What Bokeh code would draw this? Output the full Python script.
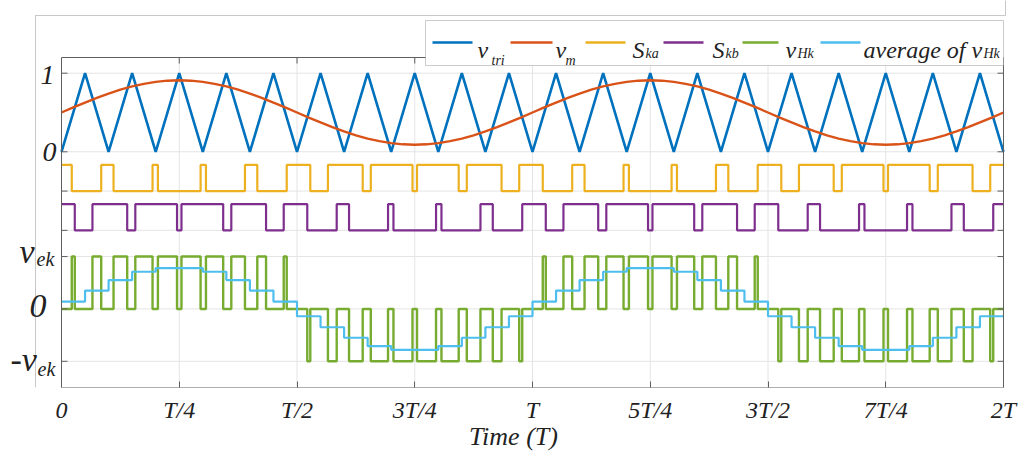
from bokeh.plotting import figure
from bokeh.models import FixedTicker, Label, BoxAnnotation, Range1d
from bokeh.embed import file_html
from bokeh.resources import INLINE

# ---------------- data (time in units of T) ----------------
x_ticks = [0, 0.25, 0.5, 0.75, 1, 1.25, 1.5, 1.75, 2]
x_tick_labels = ["0", "T/4", "T/2", "3T/4", "T", "5T/4", "3T/2", "7T/4", "2T"]

# carrier v_tri, sampled at its corners (every 0.05 T)
t_tri = [i * 0.05 for i in range(41)]
v_tri = [0, 1, 0, 1, 0, 1, 0, 1, 0, 1, 0, 1, 0, 1, 0, 1, 0, 1, 0, 1,
         0, 1, 0, 1, 0, 1, 0, 1, 0, 1, 0, 1, 0, 1, 0, 1, 0, 1, 0, 1, 0]

# modulating signal v_m, sampled every 0.025 T
t_m = [i * 0.025 for i in range(81)]
v_m = [0.500, 0.564, 0.627, 0.686, 0.741, 0.790, 0.832, 0.865, 0.890, 0.905,
       0.910, 0.905, 0.890, 0.865, 0.832, 0.790, 0.741, 0.686, 0.627, 0.564,
       0.500, 0.436, 0.373, 0.314, 0.259, 0.210, 0.168, 0.135, 0.110, 0.095,
       0.090, 0.095, 0.110, 0.135, 0.168, 0.210, 0.259, 0.314, 0.373, 0.436,
       0.500, 0.564, 0.627, 0.686, 0.741, 0.790, 0.832, 0.865, 0.890, 0.905,
       0.910, 0.905, 0.890, 0.865, 0.832, 0.790, 0.741, 0.686, 0.627, 0.564,
       0.500, 0.436, 0.373, 0.314, 0.259, 0.210, 0.168, 0.135, 0.110, 0.095,
       0.090, 0.095, 0.110, 0.135, 0.168, 0.210, 0.259, 0.314, 0.373, 0.436,
       0.500]

# switching instants of S_ka and S_kb (both start high at t = 0)
ska_edges = [0.0218, 0.0843, 0.1105, 0.1933, 0.2047, 0.2953, 0.3067, 0.3895,
             0.4157, 0.4782, 0.5282, 0.5657, 0.6395, 0.6567, 0.7452, 0.7548,
             0.8433, 0.8605, 0.9343, 0.9718,
             1.0218, 1.0843, 1.1105, 1.1933, 1.2047, 1.2953, 1.3067, 1.3895,
             1.4157, 1.4782, 1.5282, 1.5657, 1.6395, 1.6567, 1.7452, 1.7548,
             1.8433, 1.8605, 1.9343, 1.9718]
skb_edges = [0.0282, 0.0657, 0.1395, 0.1567, 0.2453, 0.2547, 0.3433, 0.3605,
             0.4343, 0.4718, 0.5218, 0.5843, 0.6105, 0.6933, 0.7048, 0.7952,
             0.8067, 0.8895, 0.9157, 0.9782,
             1.0282, 1.0657, 1.1395, 1.1567, 1.2453, 1.2547, 1.3433, 1.3605,
             1.4343, 1.4718, 1.5218, 1.5843, 1.6105, 1.6933, 1.7048, 1.7952,
             1.8067, 1.8895, 1.9157, 1.9782]

# average of v_Hk over each half carrier period (per unit of v_ek)
t_avg = [i * 0.05 for i in range(41)]
avg_vhk = [0.14, 0.35, 0.55, 0.71, 0.78, 0.78, 0.71, 0.55, 0.35, 0.14,
           -0.14, -0.35, -0.55, -0.71, -0.78, -0.78, -0.71, -0.55, -0.35, -0.14,
           0.14, 0.35, 0.55, 0.71, 0.78, 0.78, 0.71, 0.55, 0.35, 0.14,
           -0.14, -0.35, -0.55, -0.71, -0.78, -0.78, -0.71, -0.55, -0.35, -0.14]

# ---------------- layout ----------------
SKA_BASE, SKB_BASE, SW_AMP = -0.5, -1.0, 1 / 3
VH_BASE, VH_AMP = -2.0, 2 / 3
y_ticks = [VH_BASE - VH_AMP, VH_BASE, VH_BASE + VH_AMP, SKB_BASE, SKA_BASE, 0, 1]

# visible axes box (data units) and where it sits on the canvas (pixels)
BOX_X0, BOX_X1, BOX_Y0, BOX_Y1 = 0.0, 2.0, -3.0, 1.2
W, H = 1026, 457
BOX_L, BOX_R, BOX_T, BOX_B = 61, 1003, 57, 387          # canvas pixels
PX_X = (BOX_R - BOX_L) / (BOX_X1 - BOX_X0)               # pixels per T
PX_Y = (BOX_B - BOX_T) / (BOX_Y1 - BOX_Y0)               # pixels per y unit
x_range = Range1d(BOX_X0 - BOX_L / PX_X, BOX_X1 + (W - BOX_R) / PX_X)
y_range = Range1d(BOX_Y0, BOX_Y1 + BOX_T / PX_Y)
TICK = 6

C_TRI, C_M, C_A, C_B, C_H, C_AVG = "#0072BD", "#D95319", "#EDB120", "#7E2F8E", "#77AC30", "#4DBEEE"
FONT = "Liberation Serif"
TXT = "#222222"
AX = "#5f5f5f"
GRID = "#e4e4e4"


def step_xy(edges, start=1):
    xs = [0.0] + list(edges) + [2.0]
    s = start
    ys = [s]
    for _ in edges:
        s = 1 - s
        ys.append(s)
    ys.append(s)
    return xs, ys


def state_at(edges, t, start=1):
    n = sum(1 for e in edges if e <= t)
    return start if n % 2 == 0 else 1 - start


p = figure(width=W, height=H, x_range=x_range, y_range=y_range,
           output_backend="svg", toolbar_location=None, y_axis_location=None,
           min_border_left=0, min_border_right=0, min_border_top=0,
           min_border_bottom=H - BOX_B)
p.background_fill_color = "white"
p.border_fill_color = "white"
p.outline_line_color = None
p.grid.visible = False

# bottom axis: the library's own axis carries the time tick labels
xb = p.below[0]
xb.ticker = FixedTicker(ticks=x_ticks)
xb.major_label_overrides = {k: v for k, v in zip(x_ticks, x_tick_labels)}
xb.major_label_text_font = FONT
xb.major_label_text_font_style = "italic"
xb.major_label_text_font_size = "24px"
xb.major_label_text_color = TXT
xb.major_label_standoff = 9
xb.axis_line_color = None
xb.major_tick_in = TICK
xb.major_tick_out = 0
xb.major_tick_line_color = AX
xb.minor_tick_line_color = None
xb.axis_label = "Time (T)"
xb.axis_label_text_font = FONT
xb.axis_label_text_font_style = "italic"
xb.axis_label_text_font_size = "26px"
xb.axis_label_text_color = TXT
xb.axis_label_standoff = -4

# grid inside the box
gx = [x for x in x_ticks if BOX_X0 < x < BOX_X1]
p.segment(x0=gx, y0=[BOX_Y0] * len(gx), x1=gx, y1=[BOX_Y1] * len(gx),
          line_color=GRID, line_width=1)
p.segment(x0=[BOX_X0] * len(y_ticks), y0=y_ticks, x1=[BOX_X1] * len(y_ticks), y1=y_ticks,
          line_color=GRID, line_width=1)

# traces
p.line(t_tri, v_tri, line_color=C_TRI, line_width=2.6)
p.line(t_m, v_m, line_color=C_M, line_width=2.4)

xs, ys = step_xy(ska_edges)
p.step(xs, [SKA_BASE + SW_AMP * v for v in ys], mode="after", line_color=C_A, line_width=2.2)
xs, ys = step_xy(skb_edges)
p.step(xs, [SKB_BASE + SW_AMP * v for v in ys], mode="after", line_color=C_B, line_width=2.2)

t_h = [0.0] + sorted(set(ska_edges + skb_edges)) + [2.0]
v_h = [state_at(skb_edges, t) - state_at(ska_edges, t) for t in t_h]
p.step(t_h, [VH_BASE + VH_AMP * v for v in v_h], mode="after", line_color=C_H, line_width=2.4)

p.step(t_avg, [VH_BASE + VH_AMP * v for v in avg_vhk + [avg_vhk[-1]]], mode="after",
       line_color=C_AVG, line_width=2.2)

# axes box and inward ticks (left, right, top)
p.quad(left=BOX_X0, right=BOX_X1, bottom=BOX_Y0, top=BOX_Y1,
       fill_color=None, line_color=AX, line_width=1)
dx, dy = TICK / PX_X, TICK / PX_Y
n = len(y_ticks)
p.segment(x0=[BOX_X0] * n, y0=y_ticks, x1=[BOX_X0 + dx] * n, y1=y_ticks, line_color=AX)
p.segment(x0=[BOX_X1 - dx] * n, y0=y_ticks, x1=[BOX_X1] * n, y1=y_ticks, line_color=AX)
p.segment(x0=gx, y0=[BOX_Y1] * len(gx), x1=gx, y1=[BOX_Y1 - dy] * len(gx), line_color=AX)


def box(l, r, b, t, color, line=None):
    p.add_layout(BoxAnnotation(left=l, right=r, bottom=b, top=t,
                               left_units="screen", right_units="screen",
                               bottom_units="screen", top_units="screen",
                               fill_color=color, fill_alpha=1,
                               line_color=line, line_width=1))


def sy(py):
    """canvas pixel row -> frame screen y (measured upward from frame bottom)"""
    return BOX_B - py


# light outer figure border of the source figure
box(35, 1005, sy(15.5), sy(14.5), "#c8c8c8")
box(34.5, 35.5, 0, sy(14.5), "#c8c8c8")
box(1004.5, 1005.5, sy(15), sy(0), "#c8c8c8")


def add_label(x, y, text, size, yu="screen", align="left", baseline="alphabetic", yoff=0):
    p.add_layout(Label(x=x, y=y, x_units="screen", y_units=yu, text=text,
                       text_font=FONT, text_font_style="italic",
                       text_font_size=f"{size}px", text_color=TXT,
                       text_align=align, text_baseline=baseline, y_offset=yoff))


# y tick labels
add_label(54, 1, "1", 28, yu="data", align="right", baseline="middle", yoff=-2)
add_label(56, 0, "0", 28, yu="data", align="right", baseline="middle")
add_label(19, VH_BASE + VH_AMP, "v", 34, yu="data", yoff=5)
add_label(36, VH_BASE + VH_AMP, "ek", 20, yu="data", yoff=-2)
add_label(46, VH_BASE, "0", 34, yu="data", align="right", baseline="middle", yoff=3)
add_label(10, VH_BASE - VH_AMP, "-v", 34, yu="data", yoff=2)
add_label(37, VH_BASE - VH_AMP, "ek", 20, yu="data", yoff=-8)

# legend (built by hand to allow subscripts)
box(425, 1003, sy(65), sy(20), "white", line="#555555")
legend_items = [
    (C_TRI, 432, 472, 477, "v", 491, "tri", 60),
    (C_M, 510, 552, 555, "v", 565, "m", 60),
    (C_A, 585, 625, 632, "S", 645, "ka", 53),
    (C_B, 663, 703, 712, "S", 725, "kb", 53),
    (C_H, 742, 778, 785, "v", 797, "Hk", 53),
    (C_AVG, 820, 860, 863, "average of v", 983, "Hk", 53),
]
for col, l0, l1, mx, mt, sx_, st, sub_base in legend_items:
    box(l0, l1, sy(43.2), sy(40.8), col)
    add_label(mx, sy(49), mt, 24)
    add_label(sx_, sy(sub_base), st, 14)

open("out.html", "w").write(file_html(p, INLINE))
